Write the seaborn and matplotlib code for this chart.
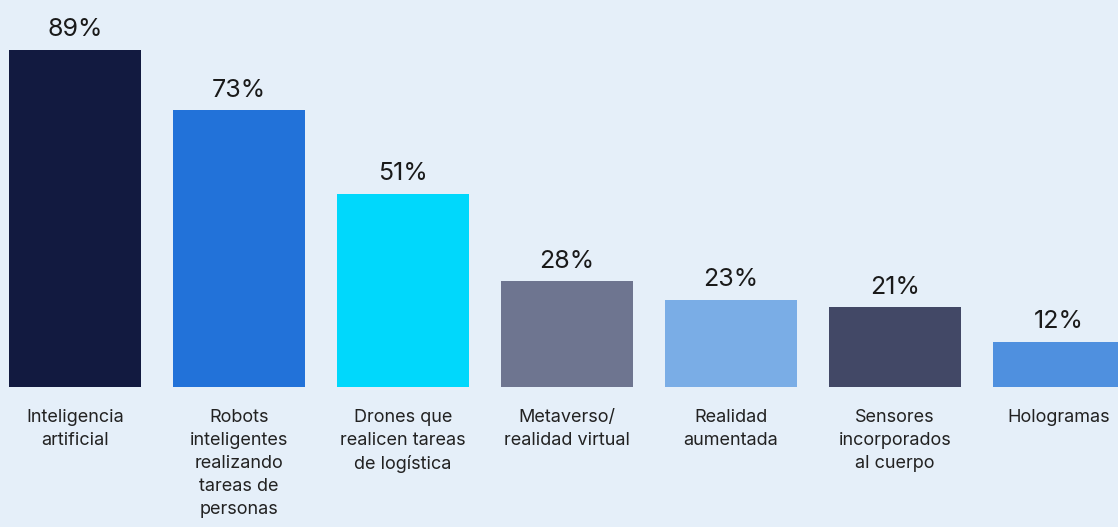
import matplotlib
matplotlib.use("Agg")
import matplotlib.pyplot as plt
import seaborn as sns
import pandas as pd

categories = [
    "Inteligencia\nartificial",
    "Robots\ninteligentes\nrealizando\ntareas de\npersonas",
    "Drones que\nrealicen tareas\nde logística",
    "Metaverso/\nrealidad virtual",
    "Realidad\naumentada",
    "Sensores\nincorporados\nal cuerpo",
    "Hologramas",
]
values = [89, 73, 51, 28, 23, 21, 12]
colors = ["#121a40", "#2272d9", "#00d8fc", "#6e7590", "#7aade6", "#424866", "#4f90df"]

bg = "#e5eff9"

sns.set_theme(style="white")
plt.rcParams["font.family"] = ["Inter", "DejaVu Sans"]

df = pd.DataFrame({"cat": categories, "val": values})

fig = plt.figure(figsize=(11.18, 5.27), dpi=100, facecolor=bg)
ax = fig.add_axes([0, 140 / 527, 1, 387 / 527])
ax.set_facecolor(bg)

sns.barplot(data=df, x="cat", y="val", hue="cat", palette=colors,
            legend=False, width=0.805, saturation=1, linewidth=0, ax=ax)

for i, v in enumerate(values):
    ax.annotate(f"{v}%", (i, v), xytext=(0, 6), textcoords="offset points",
                ha="center", va="bottom", fontsize=18, color="#1a1a1a")

ax.set_xlim(-0.457, 6.36)
ax.set_ylim(0, 102.1)
ax.set_xlabel("")
ax.set_ylabel("")
ax.set_yticks([])
ax.tick_params(axis="x", length=0, pad=16, labelsize=13, labelcolor="#222222")
for lbl in ax.get_xticklabels():
    lbl.set_linespacing(1.45)
for s in ax.spines.values():
    s.set_visible(False)

fig.savefig("out.png", dpi=100, facecolor=bg)
